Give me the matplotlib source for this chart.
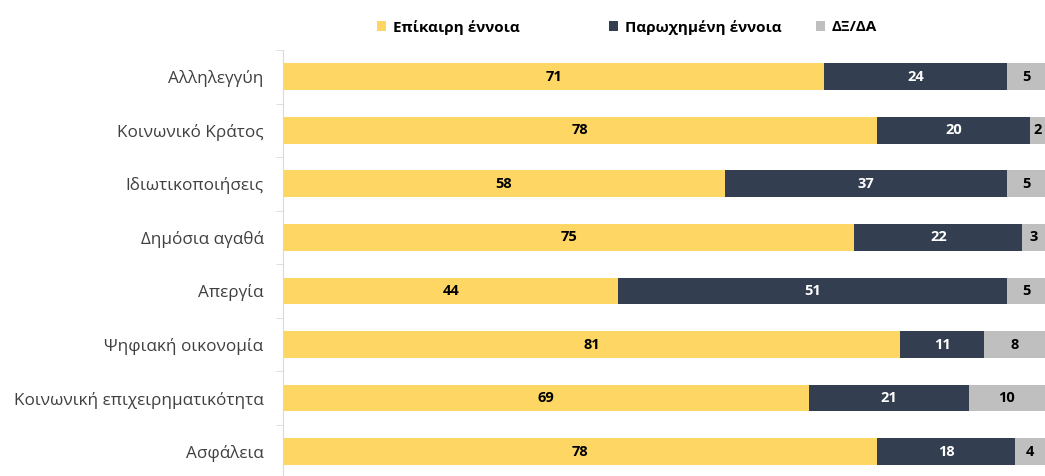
import numpy as np
import matplotlib.pyplot as plt

plt.rcParams['font.family'] = ['Open Sans', 'DejaVu Sans']

categories = ['Αλληλεγγύη', 'Κοινωνικό Κράτος', 'Ιδιωτικοποιήσεις', 'Δημόσια αγαθά',
              'Απεργία', 'Ψηφιακή οικονομία', 'Κοινωνική επιχειρηματικότητα', 'Ασφάλεια']
current = [71, 78, 58, 75, 44, 81, 69, 78]
outdated = [24, 20, 37, 22, 51, 11, 21, 18]
dk_na = [5, 2, 5, 3, 5, 8, 10, 4]
series_names = ['Επίκαιρη έννοια', 'Παρωχημένη έννοια', 'ΔΞ/ΔΑ']

colors = ['#FDD663', '#333F50', '#BFBFBF']
text_colors = ['black', 'white', 'black']

fig = plt.figure(figsize=(10.45, 4.76), dpi=100)
ax = fig.add_axes([0.2708, -0.005, 0.7292, 0.9])

y = np.arange(len(categories))
left = np.zeros(len(categories))
handles = []
for vals, col, tc, name in zip([current, outdated, dk_na], colors, text_colors, series_names):
    vals = np.array(vals)
    bars = ax.barh(y, vals, left=left, height=0.5, color=col, label=name)
    handles.append(bars)
    ax.bar_label(bars, labels=[str(v) for v in vals], label_type='center',
                 color=tc, fontsize=10.5, fontweight='bold')
    left = left + vals

ax.set_xlim(0, 100)
ax.set_ylim(len(categories) - 0.5, -0.5)
ax.set_yticks(y)
ax.set_yticklabels(categories, fontsize=12.3, color='#404040')
ax.set_yticks(np.arange(len(categories) + 1) - 0.5, minor=True)
ax.tick_params(axis='y', which='major', length=0, pad=14)
ax.tick_params(axis='y', which='minor', length=5, color='#D9D9D9')
ax.set_xticks([])
for s in ['top', 'right', 'bottom']:
    ax.spines[s].set_visible(False)
ax.spines['left'].set_color('#D9D9D9')

# legend entries sit at uneven spacing, so one small legend per entry
legend_x = [0.361, 0.583, 0.781]
for h, name, lx in zip(handles, series_names, legend_x):
    lg = fig.legend([h], [name], loc='center left', bbox_to_anchor=(lx, 0.943),
                    frameon=False, handlelength=0.6, handleheight=0.6, handletextpad=0.4,
                    borderaxespad=0, borderpad=0, prop={'size': 11, 'weight': 'bold'})

fig.savefig('out.png', dpi=100)
